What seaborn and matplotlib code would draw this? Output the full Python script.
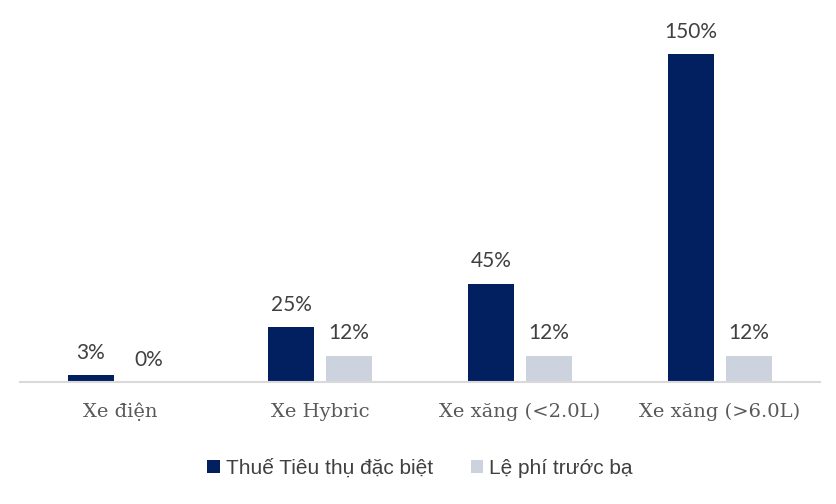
import matplotlib
matplotlib.use("Agg")
import matplotlib.pyplot as plt
import seaborn as sns
import pandas as pd

categories = ["Xe điện", "Xe Hybric", "Xe xăng (<2.0L)", "Xe xăng (>6.0L)"]
series_names = ["Thuế Tiêu thụ đặc biệt", "Lệ phí trước bạ"]
ttdb_values = [3, 25, 45, 150]
lptb_values = [0, 12, 12, 12]
colors = ["#022060", "#CCD3DF"]

df = pd.DataFrame({
    "cat": categories * 2,
    "series": [series_names[0]] * 4 + [series_names[1]] * 4,
    "value": ttdb_values + lptb_values,
})

sns.set_theme(style="white")
plt.rcParams["font.family"] = ["DejaVu Sans"]

fig = plt.figure(figsize=(8.36, 5.04), dpi=100)
ax = fig.add_axes([20 / 836, (504 - 382) / 504, 800 / 836, (382 - 41) / 504])

sns.barplot(data=df, x="cat", y="value", hue="series", order=categories,
            hue_order=series_names, palette=colors, width=0.58, gap=0.224,
            saturation=1, ax=ax, legend=True, linewidth=0)

ax.set_xlim(-0.5, 3.5)
ax.set_ylim(0, 156)
ax.set_xlabel("")
ax.set_ylabel("")
ax.set_yticks([])
for s in ["top", "right", "left"]:
    ax.spines[s].set_visible(False)
ax.spines["bottom"].set_color("#D9D9D9")
ax.spines["bottom"].set_linewidth(1.5)
ax.tick_params(axis="x", length=0, pad=15)
for t in ax.get_xticklabels():
    t.set_fontfamily("DejaVu Serif")
    t.set_fontsize(14)
    t.set_color("#595959")

for cont in ax.containers:
    labels = [f"{v:.0f}%" for v in cont.datavalues]
    ax.bar_label(cont, labels=labels, padding=9, fontsize=15,
                 color="#404040", family="Lato")

leg = ax.legend(loc="upper center", bbox_to_anchor=(0.5, -0.17), ncol=2,
                frameon=False, handlelength=0.6, handleheight=0.6,
                handletextpad=0.3, columnspacing=1.8,
                prop={"family": "Liberation Sans", "size": 15})
for t in leg.get_texts():
    t.set_color("#404040")

fig.savefig("out.png", dpi=100)
